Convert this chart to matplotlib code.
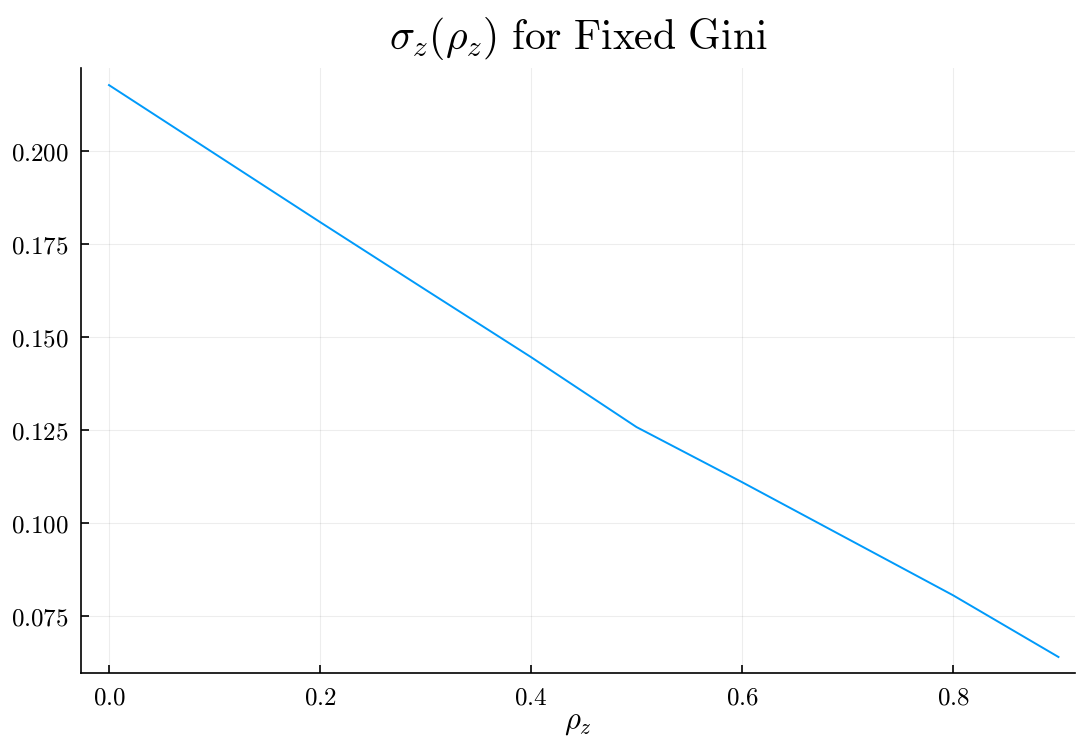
import matplotlib
matplotlib.use("Agg")
import matplotlib.pyplot as plt

# values
rho_z = [0.0, 0.1, 0.2, 0.3, 0.4, 0.5, 0.6, 0.7, 0.8, 0.9]
sigma_z = [0.2177, 0.1993, 0.1809, 0.1627, 0.1446, 0.1258, 0.1110, 0.0958, 0.0806, 0.0640]

x_ticks = [0.0, 0.2, 0.4, 0.6, 0.8]
y_ticks = [0.075, 0.100, 0.125, 0.150, 0.175, 0.200]

plt.rcParams['mathtext.fontset'] = 'cm'

fig = plt.figure(figsize=(10.76, 7.42), dpi=100)
ax = fig.add_axes([0.0753, 0.093, 0.9237, 0.8154])

ax.plot(rho_z, sigma_z, color='#009AFA', linewidth=1.4)

ax.set_xlim(-0.0265, 0.9156)
ax.set_ylim(0.0597, 0.2223)

ax.set_xticks(x_ticks)
ax.set_xticklabels([f"${t:.1f}$" for t in x_ticks], fontsize=18)
ax.set_yticks(y_ticks)
ax.set_yticklabels([f"${t:.3f}$" for t in y_ticks], fontsize=18)
ax.tick_params(direction='in', length=6, width=1.2, pad=9)

ax.grid(True, color='black', alpha=0.07, linewidth=0.8)
for side in ['top', 'right']:
    ax.spines[side].set_visible(False)
for side in ['left', 'bottom']:
    ax.spines[side].set_linewidth(1.2)

ax.set_xlabel(r"$\rho_z$", fontsize=22, labelpad=-1)
ax.set_title(r"$\sigma_z(\rho_z)\ \mathrm{for\ Fixed\ Gini}$", fontsize=30, pad=14)

fig.savefig("out.png", dpi=100)
